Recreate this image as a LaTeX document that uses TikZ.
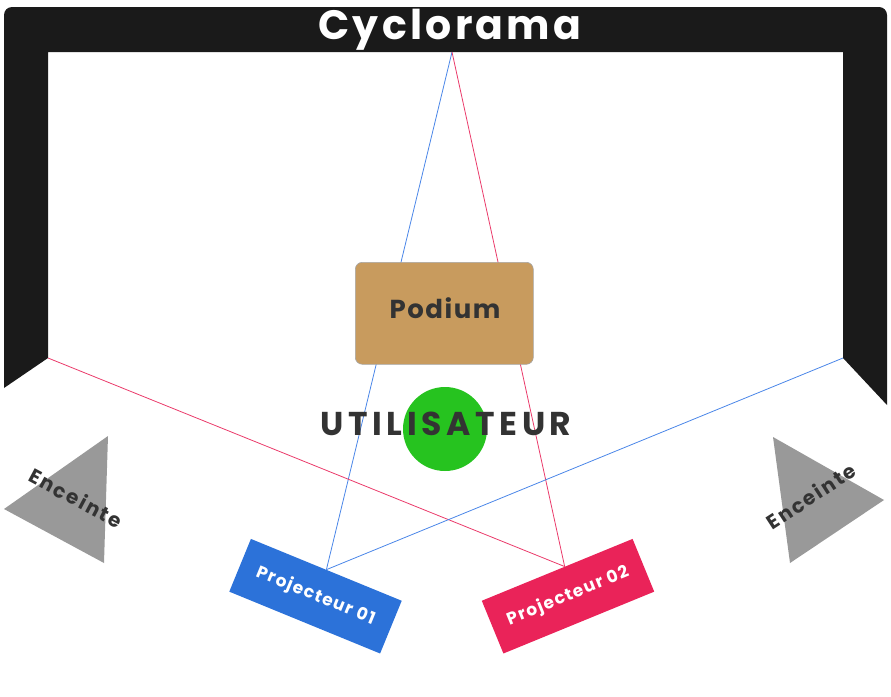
\documentclass[tikz,border=0pt]{standalone}
\usepackage{fontspec}
\setmainfont{Poppins}
\newfontfamily\wideA[LetterSpace=8]{Poppins}
\newfontfamily\wideP[LetterSpace=6]{Poppins}
\newfontfamily\wideB[LetterSpace=14]{Poppins}
\newfontfamily\wideD[LetterSpace=8]{Poppins}
\newfontfamily\wideC[LetterSpace=10]{Poppins}
\usetikzlibrary{calc}
\definecolor{frameblack}{HTML}{1A1A1A}
\definecolor{projblue}{HTML}{2C72D9}
\definecolor{projred}{HTML}{EA2359}
\definecolor{lineblue}{HTML}{4A86E8}
\definecolor{linered}{HTML}{EA3A6A}
\definecolor{podiumbrown}{HTML}{C89B5E}
\definecolor{usergreen}{HTML}{26C31F}
\definecolor{speakergray}{HTML}{999999}
\definecolor{textdark}{HTML}{333333}
\tikzset{
  projbox/.style={minimum width=163pt, minimum height=57pt, inner sep=0pt, text=white, font=\wideA\bfseries\fontsize{17}{17}\selectfont},
  bline/.style={draw=lineblue, line width=0.8pt},
  rline/.style={draw=linered, line width=0.8pt},
  spk/.style={fill=speakergray},
  spklabel/.style={text=textdark, inner sep=0pt, font=\wideC\bfseries\fontsize{20}{20}\selectfont},
}
\begin{document}
\begin{tikzpicture}[x=1pt,y=-1pt]
\useasboundingbox (0,0) rectangle (891,696);
% cyclorama frame
\fill[frameblack] (4,388) [rounded corners=8pt] -- (4,7) -- (887,7) [sharp corners] -- (887,405) -- (843,358) -- (843,52) -- (48,52) -- (48,358) -- cycle;
\node[text=white, inner sep=0pt, font=\wideD\bfseries\fontsize{41}{41}\selectfont] (cyc) at (450,30) {Cyclorama};
% reference points
\coordinate (focus) at (452,52);
\coordinate (lwall) at (48,358);
\coordinate (rwall) at (843,358);
% projectors
\node[projbox, fill=projblue, rotate=-22.3] (p1) at (315.5,596.2) {Projecteur 01};
\node[projbox, fill=projred, rotate=22.3] (p2) at (568,596.2) {Projecteur 02};
\coordinate (p2top) at ($(p2.north west)!0.55!(p2.north east)$);
% beams
\draw[bline] (focus) -- (p1.north);
\draw[rline] (focus) -- (p2top);
\draw[rline] (lwall) -- (p2top);
\draw[bline] (rwall) -- (p1.north);
% podium
\node[draw=gray!70, fill=podiumbrown, rounded corners=7pt, minimum width=178pt, minimum height=102pt, inner sep=0pt, anchor=north west, line width=0.6pt] (podium) at (355,262) {};
\node[text=textdark, inner sep=0pt, font=\wideP\bfseries\fontsize{26}{26}\selectfont] (podlabel) at (445,308) {Podium};
% user
\node[circle, fill=usergreen, minimum size=84pt, inner sep=0pt] (user) at (445,429) {};
\node[text=textdark, inner sep=0pt, font=\wideB\bfseries\fontsize{33}{33}\selectfont] (userlabel) at (446,424) {UTILISATEUR};
% speakers
\fill[spk] (4,509) -- (108,436) -- (104,563) -- cycle;
\node[spklabel, rotate=-28] (spkl) at (76,498) {Enceinte};
\fill[spk] (773,437) -- (884,500) -- (790,563) -- cycle;
\node[spklabel, rotate=33] (spkr) at (811,496) {Enceinte};
\end{tikzpicture}
\end{document}
